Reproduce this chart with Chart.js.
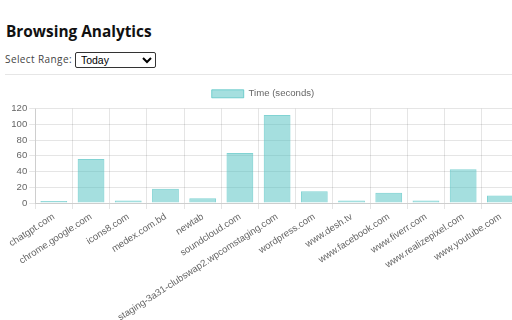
<!DOCTYPE html>
<html>
<head>
<meta charset="utf-8">
<script src="https://cdn.jsdelivr.net/npm/chart.js@4"></script>
<style>
  html, body { margin: 0; padding: 0; background: #fff; overflow: hidden; width: 512px; height: 320px; }
  h1 { position: absolute; left: 6px; top: 21px; margin: 0; font-family: 'Open Sans', sans-serif; font-weight: 700; font-size: 15.4px; color: #111; }
  .range { position: absolute; left: 5px; top: 52px; font-family: 'Open Sans', sans-serif; font-size: 10px; letter-spacing: 0.4px; color: #444; }
  .range select { width: 81px; height: 16px; font-size: 10.5px; letter-spacing: 0; margin-left: 0; padding: 0 1px; border: 1px solid #333; border-radius: 2px; background: #fff; color: #000; vertical-align: middle; }
  hr { position: absolute; left: 5px; top: 74px; width: 520px; margin: 0; border: 0; border-top: 1px solid #e6e6e6; }
  #wrap { position: absolute; left: 7px; top: 81px; }
</style>
</head>
<body>
<h1>Browsing Analytics</h1>
<div class="range">Select Range: <select><option>Today</option></select></div>
<hr>
<div id="wrap"><canvas id="usageChart" width="512" height="244"></canvas></div>
<script>
// Datos del gráfico
const sites = [
  'chatgpt.com', 'chrome.google.com', 'icons8.com', 'medex.com.bd', 'newtab',
  'soundcloud.com', 'staging-3a31-clubswap2.wpcomstaging.com', 'wordpress.com',
  'www.desh.tv', 'www.facebook.com', 'www.fiverr.com', 'www.realizepixel.com', 'www.youtube.com'
];
const seconds = [2.5, 56, 3.3, 18, 6, 63.5, 112, 15, 3.3, 13, 3.3, 43, 9.5];
const seriesLabel = 'Time (seconds)';

Chart.defaults.font.size = 9.6;
Chart.defaults.color = '#666';

const ctx = document.getElementById('usageChart');

new Chart(ctx, {
  type: 'bar',
  data: {
    labels: sites,
    datasets: [{
      label: seriesLabel,
      data: seconds,
      backgroundColor: 'rgba(75, 192, 192, 0.5)',
      borderColor: 'rgba(75, 192, 192, 0.7)',
      borderWidth: 1,
    }],
  },
  options: {
    responsive: false,
    animation: false,
    plugins: {
      legend: {
        position: 'top',
        labels: { boxWidth: 32, boxHeight: 8, padding: 8 },
      },
    },
    scales: {
      x: {
        ticks: { minRotation: 33, maxRotation: 33, autoSkip: false, padding: 2 },
        grid: { tickLength: 6 },
      },
      y: {
        beginAtZero: true,
        max: 120,
        ticks: { stepSize: 20, padding: 2 },
        grid: { tickLength: 6 },
      },
    },
  },
});
</script>
</body>
</html>
